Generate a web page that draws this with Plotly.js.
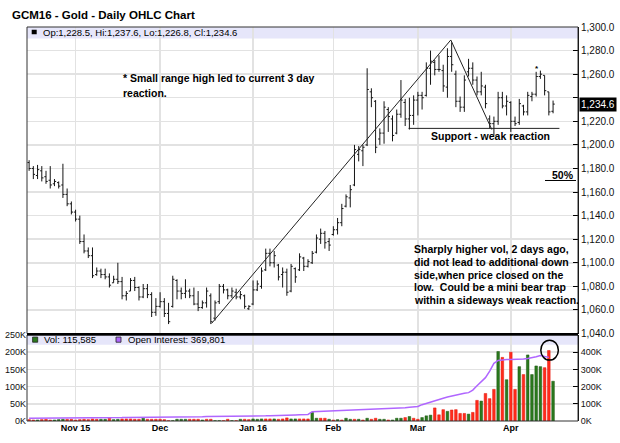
<!DOCTYPE html>
<html>
<head>
<meta charset="utf-8">
<script src="https://cdn.plot.ly/plotly-3.0.1.min.js"></script>
<style>
html,body{margin:0;padding:0;background:#fff;}
#chart{width:620px;height:443px;}
</style>
</head>
<body>
<div id="chart"></div>
<script>
// ---------- DATA ----------
const firstSession = '2015-10-16';
const lastSession = '2016-04-15';
const exchangeHolidays = ['2015-11-26','2015-12-25','2016-01-01','2016-01-18','2016-02-15','2016-03-25'];

const opens = [
1185,1180,1174,1178,1173,1170,1167,1168,1166,1158,1150,
1143,1137,1118,1110,1106,1090,1093,1090,1088,1083,
1086,1084,1072,1076,1085,1079,1071,1078,1073,1058,
1063,1067,1057,1063,1085,1076,1074,1076,1072,1065,
1062,1066,1072,1053,1067,1080,1077,1072,1075,1071,1072,1061,
1065,1077,1080,1094,1108,1100,1098,1090,1092,1076,1095,1094,1104,1097,
1100,1109,1120,1125,1118,1124,
1128,1134,1148,1155,1166,1192,1195,1200,
1245,1237,1205,1210,1230,1222,1210,1226,1236,1222,1225,
1238,1242,1242,1265,1270,1264,1263,1249,1275,1260,
1237,1232,1262,1265,1255,1245,1249,1222,1218,1220,1240,
1233,1236,1220,1219,1233,1228,1241,1243,1258,1259,1245,
1228.5];
const highs = [
1187,1182,1183,1182,1178,1182,1171,1169,1184,1163,1152,
1145,1140,1124,1113,1113,1096,1095,1095,1091,1089,
1100,1088,1076,1087,1088,1080,1082,1082,1075,1070,
1075,1070,1066,1089,1086,1079,1086,1078,1079,1076,
1068,1079,1074,1068,1082,1082,1078,1079,1078,1076,1073,1064,
1085,1085,1096,1112,1112,1110,1099,1096,1095,1099,1096,1108,1105,1103,
1110,1124,1129,1127,1121,1131,
1138,1150,1158,1166,1200,1199,1200,1265,
1248,1238,1214,1237,1232,1225,1230,1255,1239,1240,1242,
1245,1245,1270,1280,1272,1276,1268,1282,1287,1263,
1241,1259,1273,1270,1258,1262,1251,1225,1224,1245,1245,
1242,1237,1224,1239,1234,1245,1245,1262,1263,1259,1245,
1237.6];
const lows = [
1178,1171,1171,1169,1167,1163,1165,1163,1155,1148,1141,
1135,1116,1108,1104,1087,1089,1087,1086,1079,1083,
1082,1069,1068,1076,1076,1068,1070,1070,1054,1055,
1062,1054,1048,1062,1069,1069,1070,1070,1064,1059,
1061,1062,1048,1051,1065,1074,1069,1070,1069,1069,1061,1060,
1064,1076,1078,1093,1097,1096,1085,1079,1072,1075,1083,1093,1093,1096,
1099,1108,1116,1112,1110,1123,
1124,1131,1147,1147,1165,1186,1182,1199,
1232,1193,1200,1201,1211,1203,1209,1223,1216,1213,1217,
1225,1230,1241,1251,1259,1262,1245,1240,1262,1232,
1228,1228,1258,1251,1242,1242,1231,1214,1208,1217,1231,
1225,1211,1216,1217,1225,1225,1237,1241,1256,1242,1225,
1226.8];
const closes = [
1180,1175,1179,1172,1169,1166,1169,1165,1158,1150,1143,
1137,1118,1110,1106,1089,1093,1090,1088,1081,1086,
1084,1072,1074,1085,1079,1071,1078,1073,1058,1063,
1067,1057,1050,1086,1076,1074,1076,1072,1065,1062,
1066,1076,1050,1066,1080,1077,1072,1076,1071,1073,1063,1063,
1077,1082,1093,1108,1100,1106,1088,1092,1075,1097,1088,1105,1097,1101,
1108,1121,1125,1117,1115,1128,
1134,1146,1156,1162,1196,1196,1198,1247,
1240,1198,1210,1232,1224,1208,1226,1238,1222,1225,1238,
1242,1240,1265,1271,1264,1264,1250,1275,1268,1237,
1232,1255,1265,1255,1245,1250,1235,1218,1220,1240,1233,
1237,1220,1218,1235,1228,1242,1243,1258,1260,1246,1228,
1234.6];

// volume in thousands of contracts; 1 = up day (green), 0 = down day (red)
const volumeK = [
4,3,3,4,5,3,3,4,5,5,5,
3,4,5,4,6,5,5,5,8,4,
5,6,6,6,5,5,8,5,5,5,
5,4,1,1,5,5,5,5,5,5,
3,5,5,1,1,1,5,1,1,5,5,4,
6,5,6,6,6,6,5,6,9,6,6,6,6,6,
25,8,8,8,5,3,
4,3,8,5,5,5,3,8,
5,8,5,5,3,3,8,8,10,13,8,
5,10,15,17,38,18,33,28,32,33,
22,22,20,25,60,58,80,65,92,202,185,
120,200,92,158,135,192,135,160,158,155,205,
115.585];
const volUp = [
0,0,1,0,0,0,1,1,1,0,0,
0,0,0,0,0,0,1,1,0,1,
1,0,0,0,0,0,1,0,0,0,
0,0,0,1,1,1,1,0,0,0,
1,0,0,1,1,0,0,1,0,1,0,0,
1,1,1,0,0,1,0,0,0,1,1,0,0,0,
1,1,0,0,1,0,
1,0,1,1,0,1,0,1,
0,0,1,1,0,1,1,1,0,1,0,
0,1,1,1,0,0,0,1,0,0,
0,0,1,0,0,1,0,0,0,1,0,
1,0,0,1,0,1,1,1,1,0,0,
1];
// open interest in thousands
const openInterestK = [
16,16,16,16,17,17,17,17,17,18,18,
18,18,18,19,19,19,19,20,20,20,
20,20,21,21,21,21,22,22,22,23,
23,23,23,24,24,24,24,25,25,25,
25,26,26,26,26,27,27,27,27,28,28,28,
29,29,30,30,31,31,32,33,33,34,35,36,37,38,
54,55,56,56,57,58,
59,59,60,61,62,63,64,65,
66,67,68,69,70,72,73,75,77,80,82,
84,95,103,112,119,126,132,139,145,152,
158,161,165,180,205,228,252,290,335,352,356,
358,358,358,359,360,363,367,374,381,376,370,
null];
const lastVolume = 115585;
const lastOpenInterest = 369801;

const monthTickSessions = ['2015-11-02','2015-12-01','2016-01-04','2016-02-01','2016-03-01','2016-04-01'];
const monthTickLabels = ['Nov 15','Dec','Jan 16','Feb','Mar','Apr'];
const priceTicks = [1040,1060,1080,1100,1120,1140,1160,1180,1200,1220,1240,1260,1280,1300];
const volTicks = [0,50,100,150,200,250];
const oiTicks = [0,100,200,300,400];

// ---------- helpers ----------
function tradingDays(a, b, skip) {
  const out = [];
  const d = new Date(a + 'T00:00:00Z');
  const end = new Date(b + 'T00:00:00Z');
  while (d <= end) {
    const wd = d.getUTCDay();
    const s = d.toISOString().slice(0, 10);
    if (wd !== 0 && wd !== 6 && skip.indexOf(s) < 0) out.push(s);
    d.setUTCDate(d.getUTCDate() + 1);
  }
  return out;
}
function fmt1(v) {
  const s = v.toFixed(1);
  const [i, f] = s.split('.');
  return i.replace(/\B(?=(\d{3})+(?!\d))/g, ',') + '.' + f;
}
function fmtInt(v) { return String(v).replace(/\B(?=(\d{3})+(?!\d))/g, ','); }

const sessions = tradingDays(firstSession, lastSession, exchangeHolidays);
const n = closes.length - 1;

const FONT = '"Liberation Sans", Arial, Helvetica, sans-serif';
const GRID = '#e2e2e2';
const GREEN = '#2b7a1d', RED = '#ff2b1c', PURPLE = '#b066ff';

// plot area in pixels: x 27..578, y 27..421
const PL = 27, PR = 578, PT = 27, PB = 421;
const px = v => (v - PL) / (PR - PL);
const py = v => (PB - v) / (PB - PT);

const traces = [
  {
    type: 'ohlc', x: sessions, open: opens, high: highs, low: lows, close: closes,
    xaxis: 'x', yaxis: 'y',
    increasing: {line: {color: '#151515', width: 1}},
    decreasing: {line: {color: '#151515', width: 1}},
    tickwidth: 0.4, hoverinfo: 'skip'
  },
  {
    type: 'bar', x: sessions, y: volumeK.map(v => v * 1000),
    xaxis: 'x', yaxis: 'y2', width: 0.62,
    marker: {color: volUp.map(u => u ? GREEN : RED),
             line: {color: volUp.map(u => u ? '#1a5510' : '#e0180c'), width: 0.5}},
    hoverinfo: 'skip'
  },
  {
    type: 'scatter', mode: 'lines', x: sessions,
    y: openInterestK.map(v => v === null ? null : v * 1000),
    xaxis: 'x', yaxis: 'y3', line: {color: PURPLE, width: 1.5}, hoverinfo: 'skip'
  }
];

const bold = (size) => ({family: FONT, size: size, color: '#000', weight: 'bold'});

const blockLines = ['Sharply higher vol, 2 days ago,', 'did not lead to additional down',
  'side,when price closed on the', 'low.\u00a0 Could be a mini bear trap', 'within a sideways weak reaction.'];
const blockY = [1111.7, 1100.6, 1090.0, 1079.4, 1068.4];

const annotations = [
  {xref: 'paper', yref: 'y', x: px(41), y: 1295.6, xanchor: 'left', yanchor: 'middle', showarrow: false,
   text: 'Op:' + fmt1(opens[n]) + ', Hi:' + fmt1(highs[n]) + ', Lo:' + fmt1(lows[n]) + ', Cl:' + fmt1(closes[n]),
   font: {family: FONT, size: 9.5, color: '#000'}},
  {xref: 'paper', yref: 'y2', x: px(41.5), y: 236500, xanchor: 'left', yanchor: 'middle', showarrow: false,
   text: 'Vol: ' + fmtInt(lastVolume), font: {family: FONT, size: 9.5, color: '#000'}},
  {xref: 'paper', yref: 'y2', x: px(126), y: 236500, xanchor: 'left', yanchor: 'middle', showarrow: false,
   text: 'Open Interest: ' + fmtInt(lastOpenInterest), font: {family: FONT, size: 9.5, color: '#000'}},
  {xref: 'paper', yref: 'y', x: px(121), y: 1256.7, xanchor: 'left', yanchor: 'middle', showarrow: false,
   text: '* Small range high led to current 3 day', font: bold(10.5)},
  {xref: 'paper', yref: 'y', x: px(121), y: 1244.4, xanchor: 'left', yanchor: 'middle', showarrow: false,
   text: 'reaction.', font: bold(10.5)},
  {xref: 'paper', yref: 'y', x: px(429), y: 1207.5, xanchor: 'left', yanchor: 'middle', showarrow: false,
   text: 'Support - weak reaction', font: bold(10.5)},
  {xref: 'paper', yref: 'y', x: px(563), y: 1174.4, xanchor: 'center', yanchor: 'middle', showarrow: false,
   text: '50%', font: bold(10.5)},
  {xref: 'x', yref: 'y', x: 120.1, y: 1264.5, xanchor: 'center', yanchor: 'middle', showarrow: false,
   text: '*', font: bold(8)},
  {xref: 'paper', yref: 'y', x: 1, xshift: 1, y: closes[n], xanchor: 'left', yanchor: 'middle', showarrow: false,
   text: fmt1(closes[n]), bgcolor: '#000', borderpad: 1, font: {family: FONT, size: 10, color: '#fff'}}
];
blockLines.forEach((t, i) => annotations.push({
  xref: 'paper', yref: 'y', x: px(411.7), y: blockY[i], xanchor: 'left', yanchor: 'middle',
  showarrow: false, text: t, font: bold(10.5)}));

const shapes = [
  // legend bands
  {type: 'rect', xref: 'paper', yref: 'y', x0: 0, x1: 1, y0: 1290.3, y1: 1300, fillcolor: '#e6e6fa', line: {width: 0}, layer: 'below'},
  {type: 'rect', xref: 'paper', yref: 'y2', x0: 0, x1: 1, y0: 222000, y1: 250000, fillcolor: '#e6e6fa', line: {width: 0}, layer: 'below'},
  // legend swatches
  {type: 'rect', xref: 'paper', yref: 'y', x0: px(31.7), x1: px(36.7), y0: 1293.8, y1: 1297.6, fillcolor: '#000', line: {width: 0}},
  {type: 'rect', xref: 'paper', yref: 'y2', x0: px(32.6), x1: px(37.7), y0: 229000, y1: 244000, fillcolor: GREEN, line: {color: '#222', width: 0.8}},
  {type: 'rect', xref: 'paper', yref: 'y2', x0: px(116), x1: px(121), y0: 229000, y1: 244000, fillcolor: PURPLE, line: {color: '#222', width: 0.8}},
  // panel frames
  {type: 'rect', xref: 'paper', yref: 'paper', x0: 0, x1: 1, y0: py(333.5), y1: 1, line: {color: '#333', width: 1}, layer: 'above'},
  {type: 'rect', xref: 'paper', yref: 'paper', x0: 0, x1: 1, y0: 0, y1: py(335), line: {color: '#333', width: 1}, layer: 'above'},
  {type: 'line', xref: 'paper', yref: 'paper', x0: 0, x1: 1, y0: py(334.2), y1: py(334.2), line: {color: '#000', width: 2.5}},
  // hand-drawn analysis lines
  {type: 'line', xref: 'x', yref: 'y', x0: 43.2, y0: 1048.6, x1: 99.8, y1: 1289, line: {color: '#222', width: 1}},
  {type: 'line', xref: 'x', yref: 'y', x0: 99.8, y0: 1289, x1: 109.5, y1: 1213, line: {color: '#222', width: 1}},
  {type: 'line', xref: 'x', yref: 'y', x0: 89.8, y0: 1214, x1: 125.5, y1: 1214, line: {color: '#222', width: 1}},
  {type: 'line', xref: 'paper', yref: 'y', x0: px(545), x1: px(576), y0: 1169.8, y1: 1169.8, line: {color: '#000', width: 1}},
  {type: 'circle', xref: 'x', yref: 'y2', x0: 121.1, x1: 125.25, y0: 177000, y1: 235000, line: {color: '#000', width: 1.5}}
];

const layout = {
  width: 620, height: 443,
  margin: {l: PL, r: 620 - PR, t: PT, b: 443 - PB, pad: 0},
  paper_bgcolor: '#fff', plot_bgcolor: '#fff',
  showlegend: false, hovermode: false, bargap: 0,
  font: {family: FONT, size: 10, color: '#111'},
  title: {text: '<b>GCM16 - Gold - Daily OHLC Chart</b>', font: {family: FONT, size: 11.5, color: '#000'},
          x: 12 / 620, xanchor: 'left', xref: 'container', y: 1 - 15 / 443, yanchor: 'middle', yref: 'container'},
  xaxis: {
    type: 'category', range: [-0.5, 129.9], anchor: 'y2',
    tickmode: 'array', tickvals: monthTickSessions, ticktext: monthTickLabels,
    showgrid: true, gridcolor: GRID, gridwidth: 1.5, ticks: '', showline: false, zeroline: false,
    tickfont: {family: FONT, size: 9, color: '#000', weight: 'bold'},
    rangeslider: {visible: false}, fixedrange: true
  },
  yaxis: {
    domain: [py(333.5), 1], range: [1040, 1300], side: 'right', anchor: 'x',
    tickmode: 'array', tickvals: priceTicks, ticktext: priceTicks.map(v => v === 1240 ? '' : fmt1(v)),
    ticks: 'inside', ticklen: 5, tickcolor: '#000', showline: true, linecolor: '#000', linewidth: 1,
    showgrid: true, gridcolor: GRID, gridwidth: 1.5, zeroline: false,
    tickfont: {family: FONT, size: 10, color: '#111'}, fixedrange: true
  },
  yaxis2: {
    domain: [0, py(335)], range: [0, 250000], side: 'left', anchor: 'x',
    tickmode: 'array', tickvals: volTicks.map(v => v * 1000), ticktext: volTicks.map(v => v + 'K'),
    ticks: '', showline: false, showgrid: true, gridcolor: GRID, gridwidth: 1.5, zeroline: false,
    tickfont: {family: FONT, size: 9, color: '#111'}, fixedrange: true
  },
  yaxis3: {
    overlaying: 'y2', side: 'right', range: [0, 500000], anchor: 'x',
    tickmode: 'array', tickvals: oiTicks.map(v => v * 1000), ticktext: oiTicks.map(v => v + 'K'),
    ticks: 'inside', ticklen: 5, tickcolor: '#000', showline: true, linecolor: '#000', showgrid: false, zeroline: false,
    tickfont: {family: FONT, size: 9, color: '#111'}, fixedrange: true
  },
  shapes: shapes,
  annotations: annotations
};

Plotly.newPlot('chart', traces, layout, {displayModeBar: false, staticPlot: true});
</script>
</body>
</html>
